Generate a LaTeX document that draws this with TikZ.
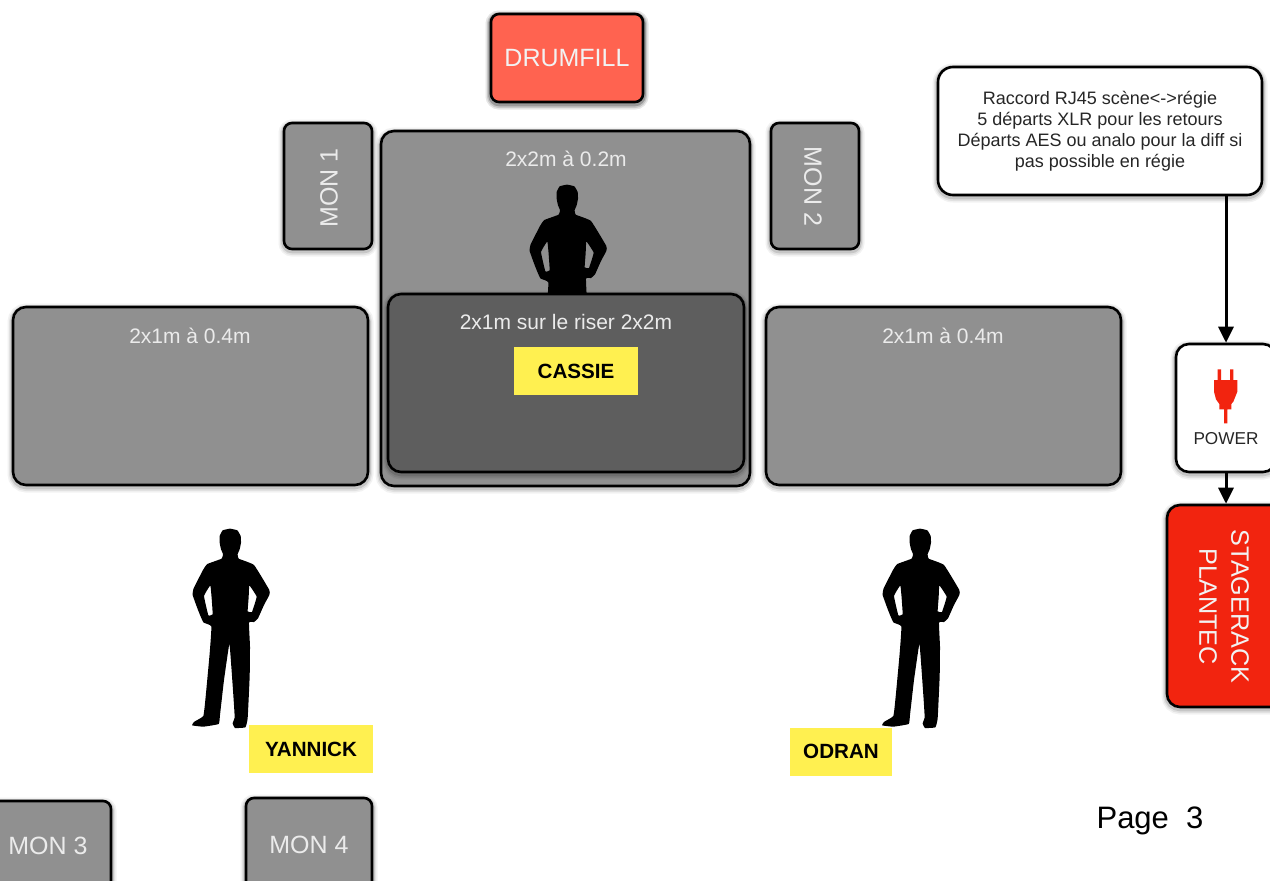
\documentclass[tikz,border=0pt]{standalone}
\usepackage{fontspec}
\setmainfont{Liberation Sans}
\usetikzlibrary{arrows.meta}
\definecolor{greybox}{HTML}{909090}
\definecolor{darkbox}{HTML}{5E5E5E}
\definecolor{tomatobox}{HTML}{FF6350}
\definecolor{redbox}{HTML}{F2240F}
\definecolor{yellowtag}{HTML}{FFF050}
\tikzset{
  x=1pt,y=-1pt,
  softshade/.style={
    preaction={draw=black,draw opacity=.05,line width=11pt,transform canvas={yshift=-2pt}},
    preaction={draw=black,draw opacity=.07,line width=8pt,transform canvas={yshift=-2pt}},
    preaction={draw=black,draw opacity=.12,line width=5.5pt,transform canvas={yshift=-1.5pt}}},
  panel/.style={draw=black,line width=2.6pt,rounded corners=13pt,inner sep=0pt,softshade,align=center},
  smallpanel/.style={panel,rounded corners=8pt},
  tag/.style={fill=yellowtag,inner sep=0pt,font=\fontsize{20.6}{24}\selectfont\bfseries,text=black},
  whitetxt/.style={text=white!92!black,font=\fontsize{21}{25}\selectfont,inner sep=0pt},
  montxt/.style={text=white!92!black,font=\fontsize{25}{30}\selectfont,inner sep=0pt},
  link/.style={draw=black,line width=3pt,-{Triangle[width=15pt,length=16pt]}},
  person/.pic={
    \fill[black,even odd rule,scale=1/3]
      plot[smooth cycle,tension=.2] coordinates {
        (180,56) (158,61) (149,78) (149,98) (153,118) (159,132) (155,146) (112,162) (99,180)
        (71,235) (68,255) (84,300) (100,337) (124,349) (119,430) (107,560) (100,618)
        (73,635) (66,646) (100,650) (146,642) (150,615) (162,510) (178,402) (184,470) (191,570) (194,622)
        (188,640) (195,654) (226,652) (233,625) (239,500) (240,410) (237,338) (252,336) (264,325)
        (282,285) (298,255) (298,240) (252,165) (206,146) (203,132) (209,118) (213,98) (212,78) (202,61)}
      plot[smooth cycle,tension=.15] coordinates {(121,226) (102,258) (115,316) (128,313) (125,265)}
      plot[smooth cycle,tension=.15] coordinates {(238,226) (260,260) (246,306) (233,304) (236,262)};
  }
}
\begin{document}
\begin{tikzpicture}
\useasboundingbox (0,0) rectangle (1270,881);
\node[panel,fill=tomatobox,minimum width=152pt,minimum height=88pt,text=white!95!black,font=\fontsize{25}{30}\selectfont,smallpanel] (drumfill) at (567,58) {DRUMFILL};
\node[smallpanel,fill=greybox,minimum width=88pt,minimum height=126pt] (mon1) at (328,186) {};
\node[montxt,rotate=90] (mon1t) at (329,188) {MON 1};
\node[smallpanel,fill=greybox,minimum width=88pt,minimum height=126pt] (mon2) at (815,186) {};
\node[montxt,rotate=-90] (mon2t) at (813,186.5) {MON 2};
\node[panel,fill=greybox,minimum width=369pt,minimum height=355pt] (riser) at (565.5,308.5) {};
\node[whitetxt] (risert) at (566,159) {2x2m à 0.2m};
\pic (p3) at (507,166) {person};
\node[panel,fill=greybox,minimum width=355pt,minimum height=178pt] (left) at (190.5,396) {};
\node[whitetxt] (leftt) at (190,336) {2x1m à 0.4m};
\node[panel,fill=greybox,minimum width=355pt,minimum height=178pt] (right) at (943.5,396) {};
\node[whitetxt] (rightt) at (943,336) {2x1m à 0.4m};
\node[panel,fill=darkbox,minimum width=356pt,minimum height=178pt] (centre) at (566,383) {};
\node[whitetxt] (centret) at (566,322) {2x1m sur le riser 2x2m};
\node[tag,minimum width=124pt,minimum height=48pt] (cassie) at (576,371) {CASSIE};
\pic (p1) at (170,510) {person};
\pic (p2) at (860,510) {person};
\node[tag,minimum width=124pt,minimum height=48pt] (yannick) at (311,749) {YANNICK};
\node[tag,minimum width=102pt,minimum height=48pt] (odran) at (841,752) {\raisebox{2pt}{ODRAN}};
\node[smallpanel,fill=greybox,minimum width=126pt,minimum height=90pt,montxt,text=white!92!black] (mon3) at (48,846) {MON 3};
\node[smallpanel,fill=greybox,minimum width=126pt,minimum height=94pt,montxt,text=white!92!black] (mon4) at (309,845) {MON 4};
\node[panel,fill=white,minimum width=324pt,minimum height=128pt,text=black!85,font=\fontsize{18}{20.9}\selectfont,rounded corners=15pt] (note) at (1100,131) {Raccord RJ45 scène<->régie\\5 départs XLR pour les retours\\Départs AES ou analo pour la diff si\\pas possible en régie};
\node[panel,fill=white,minimum width=100pt,minimum height=128pt] (power) at (1226,408) {};
\node[panel,fill=redbox,minimum width=118pt,minimum height=202pt] (stagerack) at (1226,606) {};
\node[text=white!95!black,font=\fontsize{25.2}{32}\selectfont,rotate=-90,align=center,inner sep=0pt] (staget) at (1224,606.5) {STAGERACK\\PLANTEC};
\node[inner sep=0pt,text=black!85,font=\fontsize{17.2}{20}\selectfont] (powert) at (1226,438.5) {POWER};
\fill[redbox,shift={(1150,330)},scale=1/3]
  (203,118) -- (213,118) -- (213,150) -- (240,150) -- (240,118) -- (250,118) -- (250,150) -- (262,150)
  -- (262,185) -- (250,215) -- (244,222) -- (244,238) -- (232,238) -- (232,280) -- (222,280) -- (222,238)
  -- (208,238) -- (208,222) -- (198,208) -- (192,185) -- (192,150) -- (203,150) -- cycle;
\draw[link] (power.north |- note.south) -- (power.north);
\draw[link] (power.south) -- (stagerack.north);
\node[inner sep=0pt,text=black,font=\fontsize{31}{36}\selectfont] (page) at (1150,821) {Page\ \ 3};
\end{tikzpicture}
\end{document}
